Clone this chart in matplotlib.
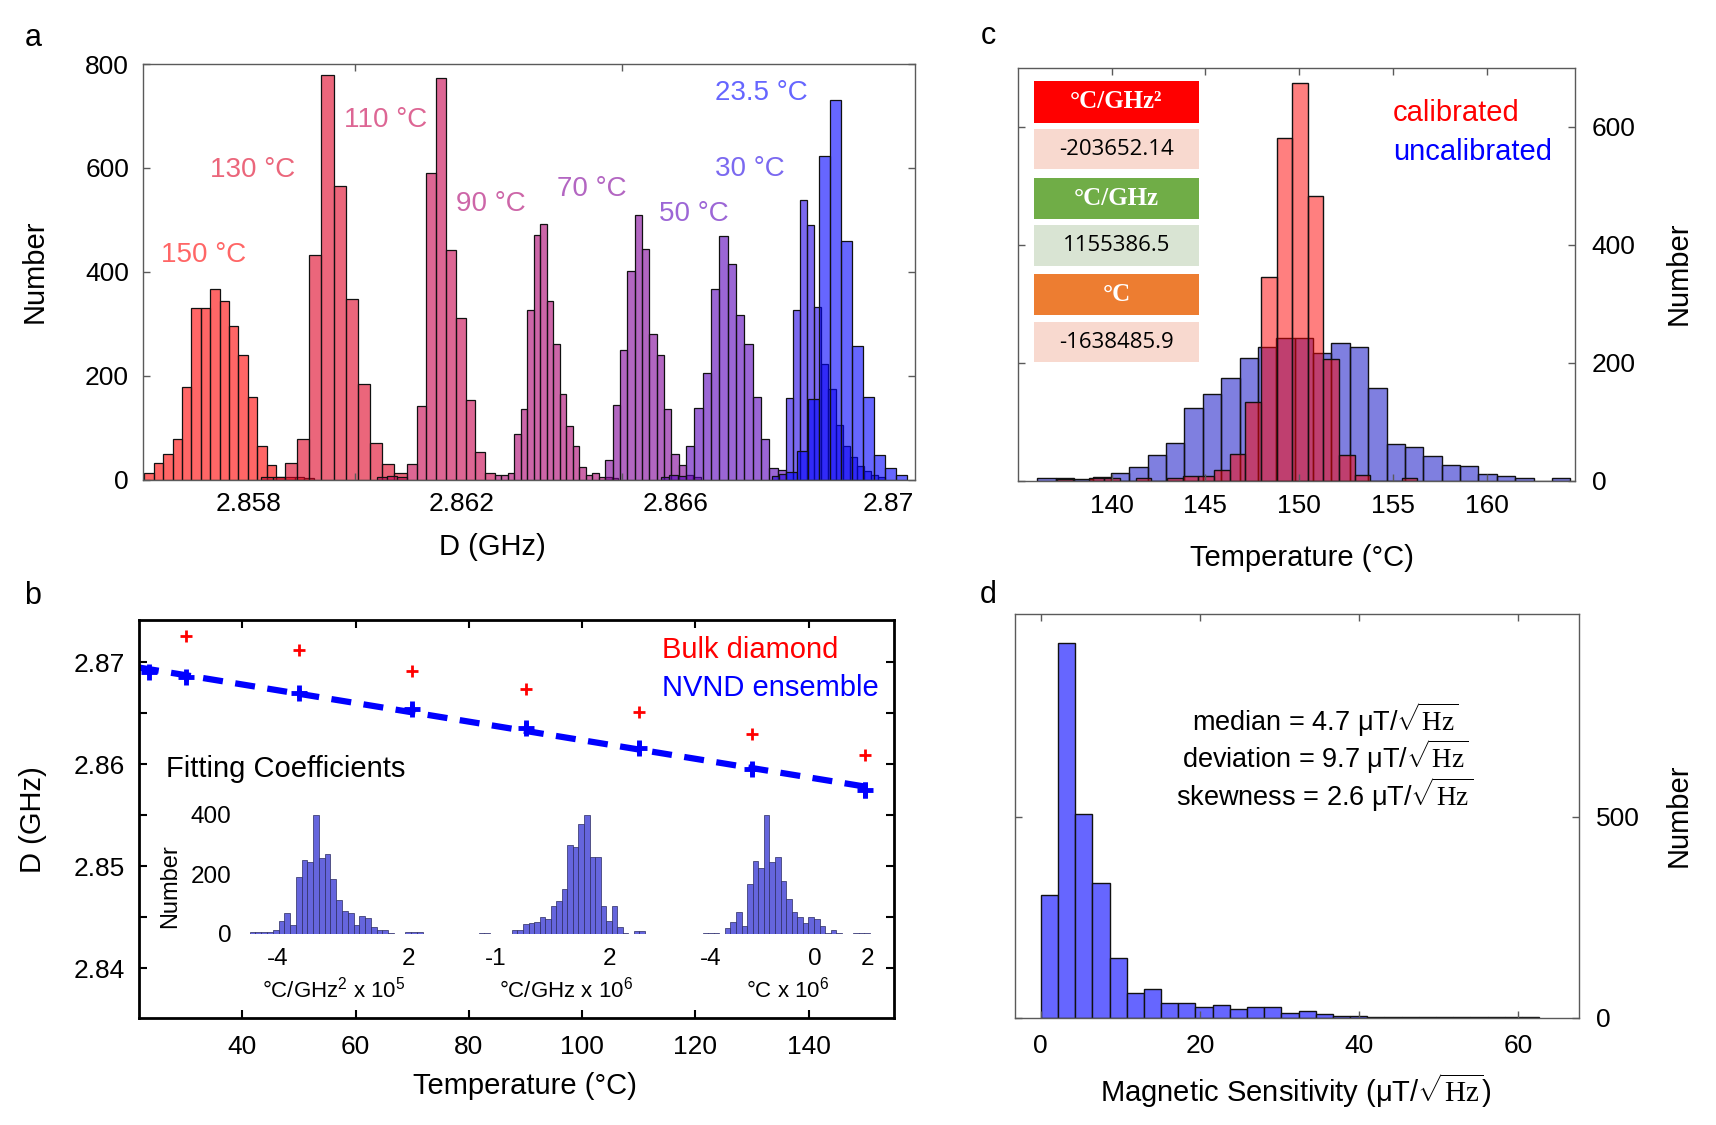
import numpy as np
import matplotlib
matplotlib.use('Agg')
import matplotlib.pyplot as plt
from matplotlib.patches import Rectangle

W, H = 1716, 1125
plt.rcParams['font.family'] = ['Liberation Sans', 'DejaVu Sans']
plt.rcParams['mathtext.fontset'] = 'custom'
plt.rcParams['mathtext.rm'] = 'Liberation Sans'
plt.rcParams['mathtext.sf'] = 'Liberation Serif'
plt.rcParams['mathtext.it'] = 'Liberation Sans:italic'
plt.rcParams['mathtext.bf'] = 'Liberation Sans:bold'

# ---------------- panel a data ----------------
a_labels = ['150 °C', '130 °C', '110 °C', '90 °C', '70 °C', '50 °C', '30 °C', '23.5 °C']
a_start = [2.856038, 2.858220, 2.860409, 2.862617, 2.864687, 2.865732, 2.867811, 2.868084]
a_width = [0.0001764, 0.0002283, 0.0001841, 0.0001218, 0.0001376, 0.0001563, 0.0001332, 0.0002056]
a_counts_150 = [13, 31, 50, 78, 179, 331, 331, 367, 343, 295, 239, 158, 65, 28, 5, 5, 4, 3]
a_counts_130 = [4, 5, 31, 78, 433, 779, 566, 348, 183, 71, 29, 12]
a_counts_110 = [5, 6, 4, 29, 141, 590, 773, 441, 310, 153, 52, 12]
a_counts_90 = [8, 8, 12, 88, 135, 327, 470, 492, 343, 260, 165, 103, 65, 24, 8, 12, 5, 4, 3]
a_counts_70 = [37, 144, 249, 401, 510, 444, 281, 239, 135, 50, 28, 8, 5]
a_counts_50 = [5, 8, 6, 65, 138, 205, 366, 468, 414, 316, 260, 158, 78, 23, 18]
a_counts_30 = [6, 10, 156, 326, 538, 490, 332, 222, 175, 104, 64, 44, 26, 17, 8, 5]
a_counts_23 = [15, 54, 155, 622, 731, 460, 258, 159, 48, 23, 8]
a_counts = [a_counts_150, a_counts_130, a_counts_110, a_counts_90,
            a_counts_70, a_counts_50, a_counts_30, a_counts_23]
a_base = [(1.0, 0.0, 0.0), (0.87, 0.0, 0.14), (0.78, 0.0, 0.30), (0.67, 0.0, 0.43),
          (0.50, 0.0, 0.60), (0.35, 0.0, 0.73), (0.14, 0.02, 0.90), (0.0, 0.0, 1.0)]
a_label_x = [2.856351, 2.857270, 2.859784, 2.861886, 2.863780, 2.865694, 2.866745, 2.866745]
a_label_y = [433, 595, 693, 531, 560, 512, 597, 745]
a_xticks = [2.858, 2.862, 2.866, 2.87]
a_xticklabels = ['2.858', '2.862', '2.866', '2.87']
a_xminor = [2.86, 2.865, 2.87]
a_yticks = [0, 200, 400, 600, 800]

# ---------------- panel b data ----------------
b_temp_bulk = [30, 50, 70, 90, 110, 130, 150]
b_D_bulk = [2.87262, 2.87122, 2.86919, 2.86736, 2.86511, 2.86296, 2.86092]
b_temp_nv = [23.5, 30, 50, 70, 90, 110, 130, 150]
b_D_nv = [2.86902, 2.86859, 2.86702, 2.86539, 2.86359, 2.86163, 2.85954, 2.85748]
b_err = [0.0003, 0.0004, 0.0004, 0.0005, 0.0006, 0.0007, 0.0006, 0.0008]
b_xticks = [40, 60, 80, 100, 120, 140]
b_yticks = [2.84, 2.85, 2.86, 2.87]
b_yticklabels = ['2.84', '2.85', '2.86', '2.87']
b_yminor = [2.845, 2.855, 2.865]

# insets (fitting coefficient histograms)
in1_start, in1_width = -5.27, 0.2646
in1_counts = [6, 6, 6, 6, 15, 43, 72, 31, 192, 247, 243, 400, 255, 269, 184, 115, 78, 72,
              31, 61, 54, 23, 13, 15, 3, 0, 0, 6, 6, 6]
in2_start, in2_width = -1.437, 0.1453
in2_counts = [3, 3, 1, 1, 0, 0, 15, 15, 35, 38, 40, 57, 49, 95, 110, 150, 300, 294, 371, 400,
              260, 260, 95, 43, 95, 24, 3, 0, 9, 9]
in3_start, in3_width = -4.31, 0.2135
in3_counts = [4, 4, 4, 0, 21, 41, 75, 28, 169, 244, 223, 400, 242, 258, 178, 117, 75, 56, 36,
              58, 52, 28, 4, 13, 4, 0, 0, 4, 4, 4]
in_xticks = [[-4, 2], [-1, 2], [-4, 0, 2]]
in_xlabels = [r'°C/GHz$^2$ x 10$^5$', r'°C/GHz x 10$^6$', r'°C x 10$^6$']

# ---------------- panel c data ----------------
c_blue_start, c_blue_width = 136.05, 0.98
c_blue_counts = [4, 4, 2, 6, 12, 23, 44, 63, 123, 147, 174, 208, 226, 242, 242, 217, 234, 226,
                 157, 62, 57, 41, 27, 24, 11, 8, 5, 0, 5]
c_red_start, c_red_width = 137.11, 0.835
c_red_counts = [3, 0, 4, 4, 0, 4, 0, 5, 7, 7, 17, 45, 133, 345, 581, 675, 483, 206, 44, 10,
                0, 0, 5]
c_xticks = [140, 145, 150, 155, 160]
c_yticks = [0, 200, 400, 600]
c_headers = ['°C/GHz²', '°C/GHz', '°C']
c_values = ['-203652.14', '1155386.5', '-1638485.9']
c_header_colors = ['#ff0000', '#70ad47', '#ed7d31']
c_value_colors = ['#f8d9cf', '#d9e4d3', '#f8d9cf']

# ---------------- panel d data ----------------
d_start, d_width = 0.0, 2.158
d_counts = [306, 933, 507, 335, 149, 60, 72, 37, 37, 27, 30, 22, 27, 27, 12, 16, 8, 3, 3, 2,
            1, 1, 1, 2, 2, 1, 1, 1, 2]
d_xticks = [0, 20, 40, 60]
d_yticks = [0, 500]
d_stats = [r'median = 4.7 μT/$\sqrt{\mathsf{Hz}}$',
           r'deviation = 9.7 μT/$\sqrt{\mathsf{Hz}}$',
           r'skewness = 2.6 μT/$\sqrt{\mathsf{Hz}}$']

# ================= figure =================
fig = plt.figure(figsize=(W / 100, H / 100), dpi=100)


def rect(l, t, r, b):
    return [l / W, 1 - b / H, (r - l) / W, (b - t) / H]


def ftext(px, py, s, **kw):
    return fig.text(px / W, 1 - py / H, s, **kw)


def blend(c, a):
    return tuple(a * v + (1 - a) for v in c)


GRAY = '#5a5a5a'
TICK = 19


def style_box(ax, color, lw):
    for sp in ax.spines.values():
        sp.set_color(color)
        sp.set_linewidth(lw)


# ---------- panel a ----------
axA = fig.add_axes(rect(143, 64, 915, 479.5))
for st, w, cnt, base in zip(a_start, a_width, a_counts, a_base):
    edges = st + w * np.arange(len(cnt))
    axA.bar(edges, cnt, width=w, align='edge', color=base + (0.6,),
            edgecolor='#111111', linewidth=0.9)
for lab, x, y, base in zip(a_labels, a_label_x, a_label_y, a_base):
    axA.text(x, y, lab, color=blend(base, 0.6), fontsize=20, ha='left', va='center')
axA.set_xlim(2.856013, 2.8705)
axA.set_ylim(0, 800)
axA.set_xticks(a_xticks)
axA.set_xticklabels(a_xticklabels)
axA.set_xticks(a_xminor, minor=True)
axA.set_yticks(a_yticks)
axA.tick_params(axis='x', which='major', length=0, labelsize=TICK, pad=9)
axA.tick_params(axis='x', which='minor', direction='in', top=True, bottom=True,
                length=5, width=1, color=GRAY)
axA.tick_params(axis='y', direction='in', left=True, right=True, length=5, width=1,
                color=GRAY, labelsize=TICK, pad=10)
style_box(axA, GRAY, 1.0)

# ---------- panel b ----------
axB = fig.add_axes(rect(139, 620, 894, 1018))
b_xlim = (21.77, 155.05)
coef = np.polyfit(b_temp_nv, b_D_nv, 1)
line_x = np.array([b_xlim[0], b_temp_nv[-1]])
axB.plot(line_x, np.polyval(coef, line_x), color='blue', lw=4.5, dashes=(3.2, 2.0), zorder=2)
axB.errorbar(b_temp_nv, b_D_nv, yerr=b_err, fmt='+', color='blue', ms=12, mew=3.5,
             elinewidth=3.5, capsize=0, zorder=3)
axB.plot(b_temp_bulk, b_D_bulk, '+', color='red', ms=8, mew=2, zorder=3)
axB.set_xlim(*b_xlim)
axB.set_ylim(2.83513, 2.87415)
axB.set_xticks(b_xticks)
axB.set_yticks(b_yticks)
axB.set_yticklabels(b_yticklabels)
axB.set_yticks(b_yminor, minor=True)
axB.tick_params(axis='both', which='both', direction='in', top=True, right=True,
                length=6, width=1.5, labelsize=TICK)
axB.tick_params(axis='x', pad=12)
axB.tick_params(axis='y', pad=10)
style_box(axB, 'black', 2.0)

ftext(662, 650, 'Bulk diamond', color='red', fontsize=21, ha='left', va='center')
ftext(662, 688, 'NVND ensemble', color='blue', fontsize=21, ha='left', va='center')
ftext(166, 769, 'Fitting Coefficients', color='black', fontsize=21, ha='left', va='center')

inset_rects = [rect(242.5, 809, 242.5 + 185.3, 934),
               rect(472.4, 809, 472.4 + 175.6, 934),
               rect(695.1, 809, 695.1 + 179.9, 934)]
inset_xlim = [(-5.6, 2.9), (-1.6, 3.0), (-4.6, 2.3)]
inset_data = [(in1_start, in1_width, in1_counts), (in2_start, in2_width, in2_counts),
              (in3_start, in3_width, in3_counts)]
inset_label_x = [334, 566, 788]
for i, (r, xl, (st, w, cnt)) in enumerate(zip(inset_rects, inset_xlim, inset_data)):
    ai = fig.add_axes(r)
    ai.patch.set_alpha(0)
    edges = st + w * np.arange(len(cnt))
    ai.bar(edges, cnt, width=w, align='edge', color='#6565dd', edgecolor='#2a2a60',
           linewidth=0.5)
    ai.set_xlim(*xl)
    ai.set_ylim(0, 420)
    for sp in ai.spines.values():
        sp.set_visible(False)
    ai.set_xticks(in_xticks[i])
    ai.set_xticklabels([str(v) for v in in_xticks[i]])
    ai.tick_params(axis='x', length=0, labelsize=17.5, pad=10)
    if i == 0:
        ai.set_yticks([0, 200, 400])
        ai.tick_params(axis='y', length=0, labelsize=17.5, pad=8)
    else:
        ai.set_yticks([])
    ftext(inset_label_x[i], 990, in_xlabels[i], fontsize=16, ha='center', va='center')
ftext(170, 886, 'Number', fontsize=17, rotation=90, ha='center', va='center')

# ---------- panel c ----------
axC = fig.add_axes(rect(1018, 68, 1575, 480.5))
be = c_blue_start + c_blue_width * np.arange(len(c_blue_counts))
axC.bar(be, c_blue_counts, width=c_blue_width, align='edge', color=(0, 0, 0.76, 0.5),
        edgecolor='#111111', linewidth=1.0)
re = c_red_start + c_red_width * np.arange(len(c_red_counts))
axC.bar(re, c_red_counts, width=c_red_width, align='edge', color=(1, 0, 0, 0.5),
        edgecolor='#111111', linewidth=1.0)
axC.set_xlim(135.01, 164.72)
axC.set_ylim(0, 700)
axC.set_xticks(c_xticks)
axC.set_yticks(c_yticks)
axC.tick_params(axis='both', direction='in', top=True, right=True, left=True,
                labelleft=False, labelright=True, length=5, width=1, color=GRAY,
                labelsize=TICK)
axC.tick_params(axis='x', pad=10)
axC.tick_params(axis='y', pad=12)
style_box(axC, GRAY, 1.0)
ftext(1393, 113, 'calibrated', color='red', fontsize=21, ha='left', va='center')
ftext(1393, 152, 'uncalibrated', color='blue', fontsize=21, ha='left', va='center')

box_tops = [81, 129, 177.7, 225.3, 274.3, 321.7]
box_bots = [122.7, 169.3, 219, 265.7, 315.3, 362.3]
bx0, bx1 = 1034.3, 1198.6
for k in range(3):
    for j, (txt, col, kind) in enumerate([(c_headers[k], c_header_colors[k], 'h'),
                                          (c_values[k], c_value_colors[k], 'v')]):
        idx = 2 * k + j
        t, b = box_tops[idx], box_bots[idx]
        fig.add_artist(Rectangle((bx0 / W, 1 - b / H), (bx1 - bx0) / W, (b - t) / H,
                                 transform=fig.transFigure, facecolor=col,
                                 edgecolor='none', zorder=5))
        if kind == 'h':
            ftext((bx0 + bx1) / 2, (t + b) / 2, txt, color='white', fontsize=18,
                  fontweight='bold', family=['Liberation Serif', 'DejaVu Serif'],
                  ha='center', va='center', zorder=6)
        else:
            ftext((bx0 + bx1) / 2, (t + b) / 2, txt, color='black', fontsize=16,
                  family=['Open Sans', 'Liberation Sans'], ha='center', va='center',
                  zorder=6)

# ---------- panel d ----------
axD = fig.add_axes(rect(1015, 614, 1579, 1017.5))
de = d_start + d_width * np.arange(len(d_counts))
axD.bar(de, d_counts, width=d_width, align='edge', color='#6666ff',
        edgecolor='#111111', linewidth=1.0)
axD.set_xlim(-3.24, 67.6)
axD.set_ylim(0, 1005)
axD.set_xticks(d_xticks)
axD.set_yticks(d_yticks)
axD.tick_params(axis='both', direction='in', top=True, right=True, left=True,
                labelleft=False, labelright=True, length=5, width=1, color=GRAY,
                labelsize=TICK)
axD.tick_params(axis='x', pad=12)
axD.tick_params(axis='y', pad=12)
style_box(axD, GRAY, 1.0)
for s, y in zip(d_stats, [720, 757, 795]):
    ftext(1325, y, s, fontsize=19.5, ha='center', va='center')

# ---------- labels ----------
ftext(33, 38, 'a', fontsize=22, ha='center', va='center')
ftext(33, 596, 'b', fontsize=22, ha='center', va='center')
ftext(988, 36, 'c', fontsize=22, ha='center', va='center')
ftext(988, 595, 'd', fontsize=22, ha='center', va='center')

ftext(35, 271, 'Number', fontsize=21, rotation=90, ha='center', va='center')
ftext(492, 547, 'D (GHz)', fontsize=21, ha='center', va='center')
ftext(33, 820, 'D (GHz)', fontsize=21, rotation=90, ha='center', va='center')
ftext(525, 1086, 'Temperature (°C)', fontsize=21, ha='center', va='center')
ftext(1302, 558, 'Temperature (°C)', fontsize=21, ha='center', va='center')
ftext(1679, 273, 'Number', fontsize=21, rotation=90, ha='center', va='center')
ftext(1296, 1091, r'Magnetic Sensitivity (μT/$\sqrt{\mathsf{Hz}}$)', fontsize=21,
      ha='center', va='center')
ftext(1679, 815, 'Number', fontsize=21, rotation=90, ha='center', va='center')

fig.savefig('out.png', dpi=100)
